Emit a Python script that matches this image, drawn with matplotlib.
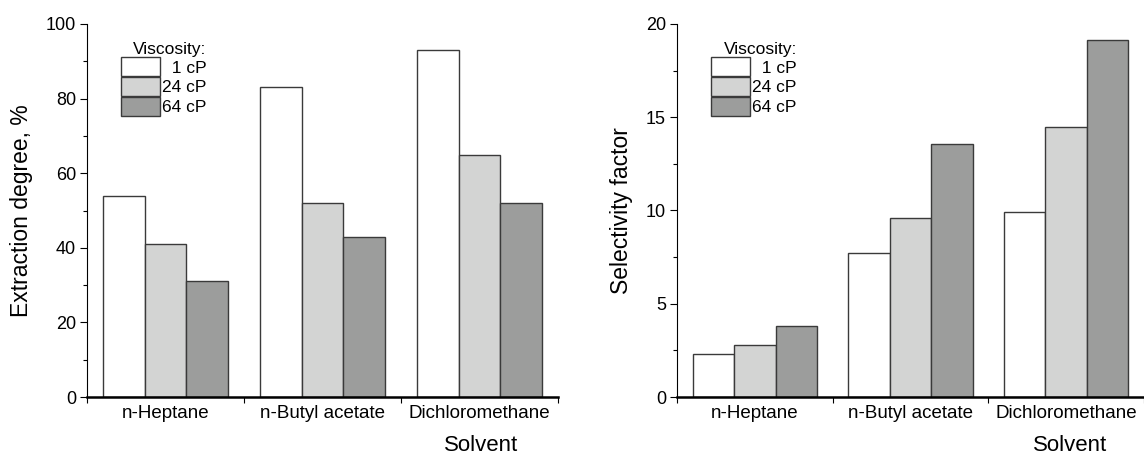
import numpy as np
import matplotlib
matplotlib.use("Agg")
import matplotlib.pyplot as plt
from matplotlib.ticker import MultipleLocator

plt.rcParams['font.family'] = ['Liberation Sans', 'DejaVu Sans']

# data
solvents = ['n-Heptane', 'n-Butyl acetate', 'Dichloromethane']
viscosity = ['1 cP', '24 cP', '64 cP']
extraction_1 = [54, 83, 93]
extraction_24 = [41, 52, 65]
extraction_64 = [31, 43, 52]
select_1 = [2.3, 7.7, 9.9]
select_24 = [2.8, 9.6, 14.5]
select_64 = [3.8, 13.55, 19.15]

colours = ['white', '#d3d4d3', '#9c9d9c']
edge = '#3a3a3a'

fig = plt.figure(figsize=(11.44, 4.55), dpi=100)
ax1 = fig.add_axes([87/1144, 1-397/455, 471/1144, 373/455])
ax2 = fig.add_axes([677/1144, 1-397/455, 467/1144, 373/455])

x = np.arange(1, 4)
w = 0.8/3

def draw(ax, series, ylabel, ymax, major, minor, leg_x, lab_x):
    for i, vals in enumerate(series):
        ax.bar(x + (i-1)*w, vals, width=w, color=colours[i], edgecolor=edge,
               linewidth=1.0, label=('  ' if i == 0 else '') + viscosity[i])
    ax.set_xlim(0.5, 3.5)
    ax.set_ylim(0, ymax)
    ax.yaxis.set_major_locator(MultipleLocator(major))
    ax.yaxis.set_minor_locator(MultipleLocator(minor))
    ax.set_xticks([0.5, 1.5, 2.5, 3.5])
    ax.set_xticks(x, minor=True)
    ax.set_xticklabels(['', '', '', ''])
    ax.set_xticklabels(solvents, minor=True)
    ax.tick_params(axis='x', which='minor', length=0, pad=6, labelsize=13.5)
    ax.tick_params(axis='x', which='major', length=4, width=0.8, direction='out')
    ax.tick_params(axis='y', which='major', length=5, width=0.8, labelsize=13,
                   pad=3)
    ax.tick_params(axis='y', which='minor', length=3, width=0.8)
    for s in ['top', 'right']:
        ax.spines[s].set_visible(False)
    ax.spines['bottom'].set_linewidth(1.8)
    ax.spines['left'].set_linewidth(0.8)
    ax.set_ylabel(ylabel, fontsize=16.5, labelpad=9)
    fig.text(lab_x/1144, 4/455, 'Solvent', ha='center', va='baseline',
             fontsize=16)
    leg = ax.legend(title='Viscosity:', loc='upper left',
                    bbox_to_anchor=(leg_x, 0.962), frameon=False, fontsize=12.5,
                    title_fontsize=12.5, handlelength=2.24, handleheight=1.35,
                    handletextpad=0.15, labelspacing=0.02, borderpad=0.2,
                    borderaxespad=0)
    leg._legend_box.align = 'right'

draw(ax1, [extraction_1, extraction_24, extraction_64], 'Extraction degree, %',
     100, 20, 10, 0.064, 481)
draw(ax2, [select_1, select_24, select_64], 'Selectivity factor',
     20, 5, 2.5, 0.065, 1070)

fig.savefig('out.png', dpi=100)
